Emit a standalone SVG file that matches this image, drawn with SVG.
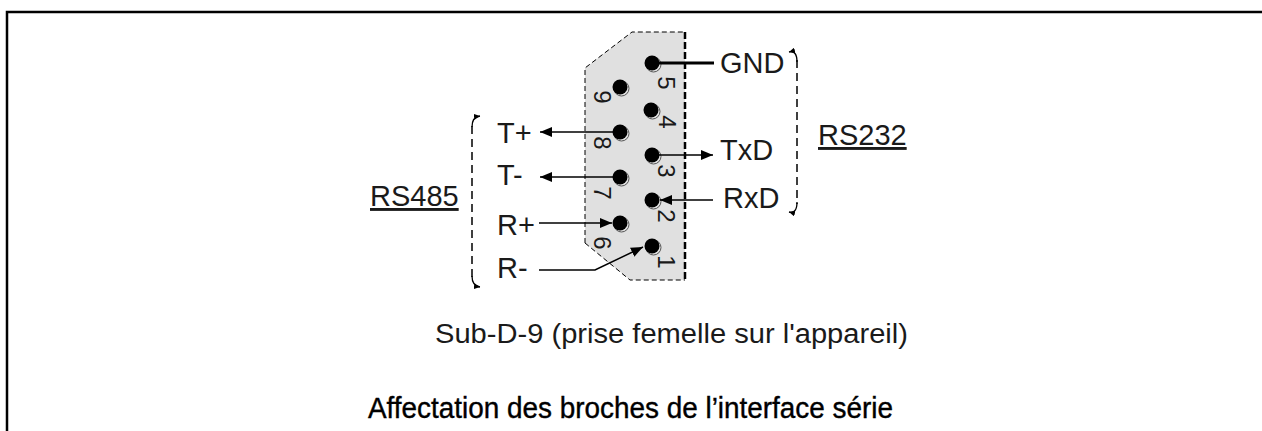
<svg xmlns="http://www.w3.org/2000/svg" width="1262" height="431" viewBox="0 0 1262 431">
<style>
.t{font-family:"Liberation Sans",Arial,sans-serif;font-size:29px;fill:#1a1a1a}
.n{font-family:"Liberation Sans",Arial,sans-serif;font-size:24px;fill:#1a1a1a;text-anchor:middle;dominant-baseline:central}
.w{stroke:#000;stroke-width:1.5;fill:none}
.br{stroke:#000;stroke-width:1.5;fill:none;stroke-dasharray:8 5}
.hk{stroke:#000;stroke-width:1.3;fill:none}
.pin{fill:#000}
.pinh{fill:none;stroke:#555;stroke-width:1}
</style>
<defs>
<marker id="ah" markerUnits="userSpaceOnUse" markerWidth="13" markerHeight="10" refX="12" refY="5" orient="auto">
<path d="M0,0 L12,5 L0,10 z" fill="#000"/>
</marker>
<marker id="sh" markerUnits="userSpaceOnUse" markerWidth="7" markerHeight="6" refX="6" refY="3" orient="auto">
<path d="M0,0 L6,3 L0,6 z" fill="#000"/>
</marker>
</defs>
<rect width="1262" height="431" fill="#fff"/>
<path d="M7,431 V12 H1262" stroke="#000" stroke-width="2.5" fill="none"/>

<g id="connector">
<polygon points="585,68 632,32 685,32 685,280 630,280 585,243" fill="#e0e0e0"/>
<path d="M585,243 V68 L632,32 H685 M585,243 L630,280 H685" stroke="#000" stroke-width="1" fill="none" stroke-dasharray="5 3"/>
<path d="M685,32 V282" stroke="#000" stroke-width="2.5" fill="none" stroke-dasharray="7 3"/>
</g>

<g id="pins">
<circle class="pinh" cx="653.5" cy="64.5" r="7.5"/>
<circle class="pinh" cx="621.5" cy="88.5" r="7.5"/>
<circle class="pinh" cx="652.5" cy="111.5" r="7.5"/>
<circle class="pinh" cx="621.5" cy="133.5" r="7.5"/>
<circle class="pinh" cx="653.5" cy="156.5" r="7.5"/>
<circle class="pinh" cx="621.5" cy="178.5" r="7.5"/>
<circle class="pinh" cx="653.5" cy="201.5" r="7.5"/>
<circle class="pinh" cx="621.5" cy="224.5" r="7.5"/>
<circle class="pinh" cx="653.5" cy="247.5" r="7.5"/>
<circle class="pin" cx="652" cy="63" r="7.5"/>
<circle class="pin" cx="620" cy="87" r="7.5"/>
<circle class="pin" cx="651" cy="110" r="7.5"/>
<circle class="pin" cx="620" cy="132" r="7.5"/>
<circle class="pin" cx="652" cy="155" r="7.5"/>
<circle class="pin" cx="620" cy="177" r="7.5"/>
<circle class="pin" cx="652" cy="200" r="7.5"/>
<circle class="pin" cx="620" cy="223" r="7.5"/>
<circle class="pin" cx="652" cy="246" r="7.5"/>
<text class="n" transform="translate(666,83) rotate(90)">5</text>
<text class="n" transform="translate(602,97) rotate(90)">9</text>
<text class="n" transform="translate(667,122) rotate(90)">4</text>
<text class="n" transform="translate(602,143) rotate(90)">8</text>
<text class="n" transform="translate(666,171) rotate(90)">3</text>
<text class="n" transform="translate(602,193) rotate(90)">7</text>
<text class="n" transform="translate(666,216) rotate(90)">2</text>
<text class="n" transform="translate(602,243) rotate(90)">6</text>
<text class="n" transform="translate(666,262) rotate(90)">1</text>
</g>

<g id="connectors">
<line x1="652" y1="63" x2="714" y2="63" stroke="#000" stroke-width="3"/>
<line class="w" x1="652" y1="155" x2="713" y2="155" marker-end="url(#ah)"/>
<line class="w" x1="713" y1="200" x2="660" y2="200" marker-end="url(#ah)"/>
<line class="w" x1="620" y1="132" x2="540" y2="132" marker-end="url(#ah)"/>
<line class="w" x1="620" y1="177" x2="540" y2="177" marker-end="url(#ah)"/>
<line class="w" x1="539" y1="223" x2="612" y2="223" marker-end="url(#ah)"/>
<polyline class="w" points="539,270 595,270 643,247" marker-end="url(#ah)"/>
</g>

<g id="rs485">
<line class="br" x1="472" y1="126" x2="472" y2="278"/>
<path class="hk" d="M472,127 Q472,117 480,116" marker-end="url(#sh)"/>
<path class="hk" d="M472,276 Q472,286 480,287" marker-end="url(#sh)"/>
<text class="t" x="370" y="206" text-decoration="underline">RS485</text>
</g>

<g id="rs232">
<line class="br" x1="797" y1="60" x2="797" y2="204"/>
<path class="hk" d="M797,62 Q797,50 789,52" marker-end="url(#sh)"/>
<path class="hk" d="M797,202 Q797,214 789,212" marker-end="url(#sh)"/>
<text class="t" x="818" y="145" text-decoration="underline">RS232</text>
</g>

<g id="labels">
<text class="t" x="720" y="73">GND</text>
<text class="t" x="720" y="160">TxD</text>
<text class="t" x="723" y="208">RxD</text>
<text class="t" x="497" y="143">T+</text>
<text class="t" x="497" y="185">T-</text>
<text class="t" x="497" y="235">R+</text>
<text class="t" x="497" y="278">R-</text>
</g>

<g id="captions">
<text class="t" x="435" y="343" style="font-size:27px" textLength="473" lengthAdjust="spacingAndGlyphs">Sub-D-9 (prise femelle sur l'appareil)</text>
<text x="368" y="418" font-family="'Liberation Sans',Arial,sans-serif" font-size="30" fill="#000" stroke="#000" stroke-width="0.4" textLength="525" lengthAdjust="spacingAndGlyphs">Affectation des broches de l’interface série</text>
</g>
</svg>
